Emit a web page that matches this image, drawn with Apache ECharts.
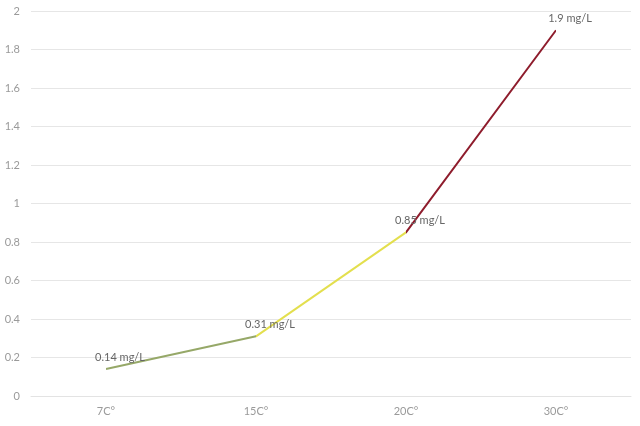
<!DOCTYPE html>
<html><head><meta charset="utf-8">
<script src="https://cdn.jsdelivr.net/npm/echarts@6/dist/echarts.min.js"></script>
<style>html,body{margin:0;padding:0;background:#fff}#c{width:640px;height:426px}</style>
</head><body><div id="c"></div>
<script>
var categories = ['7C°', '15C°', '20C°', '30C°'];
var values = [0.14, 0.31, 0.85, 1.9];
var labels = ['0.14 mg/L', '0.31 mg/L', '0.85 mg/L', '1.9 mg/L'];
var yTicks = [0, 0.2, 0.4, 0.6, 0.8, 1, 1.2, 1.4, 1.6, 1.8, 2];

var chart = echarts.init(document.getElementById('c'));
chart.setOption({
  animation: false,
  backgroundColor: '#fff',
  grid: { left: 31, right: 9, top: 11, bottom: 30, containLabel: false },
  xAxis: {
    type: 'category', data: categories, boundaryGap: true,
    axisLine: { show: true, lineStyle: { color: '#e3e3e3' } },
    axisTick: { show: false },
    axisLabel: { color: '#9a9a9a', fontSize: 11, fontFamily: 'Lato', margin: 10 }
  },
  yAxis: {
    type: 'value', min: yTicks[0], max: yTicks[yTicks.length - 1], interval: 0.2,
    axisLine: { show: false }, axisTick: { show: false },
    axisLabel: { color: '#9a9a9a', fontSize: 11, fontFamily: 'Lato', margin: 11 },
    splitLine: { lineStyle: { color: '#e6e6e6' } }
  },
  visualMap: {
    show: false, dimension: 0, type: 'piecewise',
    pieces: [
      { gte: 0, lt: 1, color: '#96a868' },
      { gte: 1, lt: 2, color: '#e3df4e' },
      { gte: 2, lte: 3, color: '#8e1c2c' }
    ]
  },
  series: [{
    type: 'line', data: values, showSymbol: true, symbol: 'circle', symbolSize: 0.1,
    lineStyle: { width: 2 },
    label: {
      show: true, position: 'top', distance: 6, offset: [14, 0],
      color: '#666', fontSize: 11, fontFamily: 'Lato',
      formatter: function (p) { return labels[p.dataIndex]; }
    }
  }]
});
</script></body></html>
